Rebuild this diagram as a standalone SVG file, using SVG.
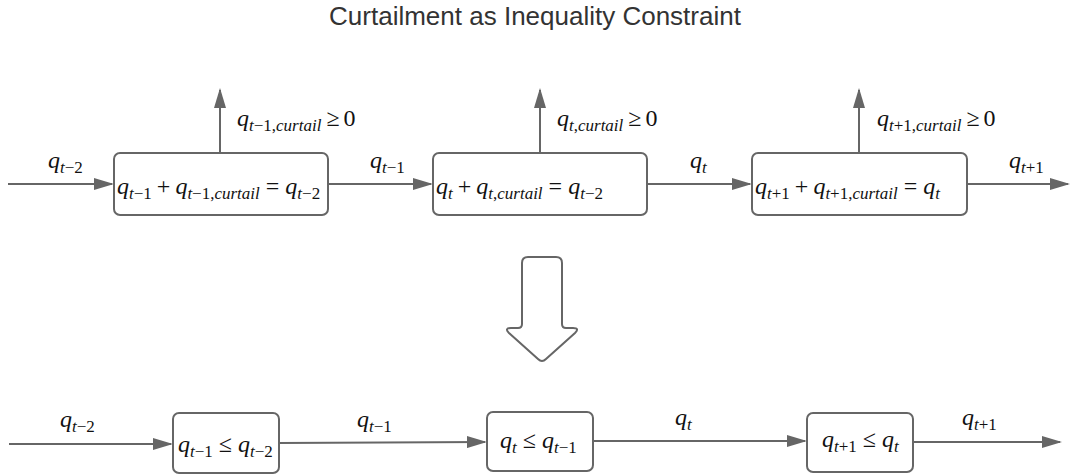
<svg xmlns="http://www.w3.org/2000/svg" width="1072" height="476" viewBox="0 0 1072 476">
<style>
.title{font-family:"Liberation Sans",Arial,sans-serif;font-size:26px;fill:#333}
.m{font-family:"Liberation Serif","Times New Roman",serif;font-size:24px;fill:#111}
.i{font-style:italic}
.s{font-size:17px}
.box{fill:#fff;stroke:#666;stroke-width:2}
.ln{stroke:#666;stroke-width:2;fill:none}
.big{fill:#fff;stroke:#666;stroke-width:2}
</style>
<defs>
<marker id="ah" markerUnits="userSpaceOnUse" markerWidth="20" markerHeight="12" viewBox="0 0 20 12" refX="18" refY="6" orient="auto">
<path d="M0,0 L20,6 L0,12 z" fill="#666"/>
</marker>
</defs>
<rect width="1072" height="476" fill="#fff"/>
<text class="title" x="535" y="25" text-anchor="middle">Curtailment as Inequality Constraint</text>

<g id="connectors">
<line class="ln" x1="8" y1="184" x2="112" y2="184" marker-end="url(#ah)"/>
<line class="ln" x1="328" y1="184" x2="431" y2="184" marker-end="url(#ah)"/>
<line class="ln" x1="647" y1="184" x2="750" y2="184" marker-end="url(#ah)"/>
<line class="ln" x1="967" y1="184" x2="1068" y2="184" marker-end="url(#ah)"/>
<line class="ln" x1="220" y1="153" x2="220" y2="90" marker-end="url(#ah)"/>
<line class="ln" x1="540" y1="153" x2="540" y2="90" marker-end="url(#ah)"/>
<line class="ln" x1="859" y1="153" x2="859" y2="90" marker-end="url(#ah)"/>
<line class="ln" x1="9" y1="444" x2="171" y2="444" marker-end="url(#ah)"/>
<line class="ln" x1="279" y1="443" x2="485" y2="442" marker-end="url(#ah)"/>
<line class="ln" x1="593" y1="441" x2="805" y2="441" marker-end="url(#ah)"/>
<line class="ln" x1="913" y1="442" x2="1060" y2="442" marker-end="url(#ah)"/>
</g>

<g id="labels">
<text class="m" x="48" y="168"><tspan class="i">q</tspan><tspan class="s" dy="5"><tspan class="i">t</tspan>−2</tspan></text>
<text class="m" x="370" y="168"><tspan class="i">q</tspan><tspan class="s" dy="5"><tspan class="i">t</tspan>−1</tspan></text>
<text class="m" x="690" y="168"><tspan class="i">q</tspan><tspan class="s i" dy="5">t</tspan></text>
<text class="m" x="1009" y="168"><tspan class="i">q</tspan><tspan class="s" dy="5"><tspan class="i">t</tspan>+1</tspan></text>

<text class="m" x="237" y="126"><tspan class="i">q</tspan><tspan class="s" dy="5"><tspan class="i">t</tspan>−1,<tspan class="i">curtail</tspan></tspan><tspan dy="-5" dx="5">≥</tspan><tspan dx="4">0</tspan></text>
<text class="m" x="557" y="126"><tspan class="i">q</tspan><tspan class="s" dy="5"><tspan class="i">t</tspan>,<tspan class="i">curtail</tspan></tspan><tspan dy="-5" dx="5">≥</tspan><tspan dx="4">0</tspan></text>
<text class="m" x="877" y="126"><tspan class="i">q</tspan><tspan class="s" dy="5"><tspan class="i">t</tspan>+1,<tspan class="i">curtail</tspan></tspan><tspan dy="-5" dx="5">≥</tspan><tspan dx="4">0</tspan></text>

<text class="m" x="60" y="427"><tspan class="i">q</tspan><tspan class="s" dy="5"><tspan class="i">t</tspan>−2</tspan></text>
<text class="m" x="357" y="427"><tspan class="i">q</tspan><tspan class="s" dy="5"><tspan class="i">t</tspan>−1</tspan></text>
<text class="m" x="675" y="425"><tspan class="i">q</tspan><tspan class="s i" dy="5">t</tspan></text>
<text class="m" x="962" y="425"><tspan class="i">q</tspan><tspan class="s" dy="5"><tspan class="i">t</tspan>+1</tspan></text>
</g>

<g id="n1">
<rect class="box" x="114" y="153" width="214" height="62" rx="6"/>
<text class="m" x="117" y="194"><tspan class="i">q</tspan><tspan class="s" dy="5"><tspan class="i">t</tspan>−1</tspan><tspan dy="-5" dx="5">+</tspan><tspan class="i" dx="5">q</tspan><tspan class="s" dy="5"><tspan class="i">t</tspan>−1,<tspan class="i">curtail</tspan></tspan><tspan dy="-5" dx="6">=</tspan><tspan class="i" dx="6">q</tspan><tspan class="s" dy="5"><tspan class="i">t</tspan>−2</tspan></text>
</g>
<g id="n2">
<rect class="box" x="433" y="153" width="214" height="62" rx="6"/>
<text class="m" x="436" y="194"><tspan class="i">q</tspan><tspan class="s i" dy="5">t</tspan><tspan dy="-5" dx="5">+</tspan><tspan class="i" dx="5">q</tspan><tspan class="s" dy="5"><tspan class="i">t</tspan>,<tspan class="i">curtail</tspan></tspan><tspan dy="-5" dx="6">=</tspan><tspan class="i" dx="6">q</tspan><tspan class="s" dy="5"><tspan class="i">t</tspan>−2</tspan></text>
</g>
<g id="n3">
<rect class="box" x="752" y="153" width="215" height="62" rx="6"/>
<text class="m" x="755" y="194"><tspan class="i">q</tspan><tspan class="s" dy="5"><tspan class="i">t</tspan>+1</tspan><tspan dy="-5" dx="5">+</tspan><tspan class="i" dx="5">q</tspan><tspan class="s" dy="5"><tspan class="i">t</tspan>+1,<tspan class="i">curtail</tspan></tspan><tspan dy="-5" dx="6">=</tspan><tspan class="i" dx="6">q</tspan><tspan class="s i" dy="5">t</tspan></text>
</g>

<g id="bigarrow">
<path class="big" d="M528,257 L556,257 Q562,257 562,263 L562,324 Q562,328 566,328 L573,328 Q580,328 575,333 L546,359 Q542,363 538,359 L509,333 Q504,328 511,328 L518,328 Q522,328 522,324 L522,263 Q522,257 528,257 Z"/>
</g>

<g id="n4">
<rect class="box" x="173" y="413" width="106" height="60" rx="6"/>
<text class="m" x="178" y="452"><tspan class="i">q</tspan><tspan class="s" dy="5"><tspan class="i">t</tspan>−1</tspan><tspan dy="-5" dx="6">≤</tspan><tspan class="i" dx="6">q</tspan><tspan class="s" dy="5"><tspan class="i">t</tspan>−2</tspan></text>
</g>
<g id="n5">
<rect class="box" x="487" y="412" width="106" height="59" rx="6"/>
<text class="m" x="500" y="448"><tspan class="i">q</tspan><tspan class="s i" dy="5">t</tspan><tspan dy="-5" dx="6">≤</tspan><tspan class="i" dx="6">q</tspan><tspan class="s" dy="5"><tspan class="i">t</tspan>−1</tspan></text>
</g>
<g id="n6">
<rect class="box" x="807" y="413" width="106" height="59" rx="6"/>
<text class="m" x="822" y="447"><tspan class="i">q</tspan><tspan class="s" dy="5"><tspan class="i">t</tspan>+1</tspan><tspan dy="-5" dx="6">≤</tspan><tspan class="i" dx="6">q</tspan><tspan class="s i" dy="5">t</tspan></text>
</g>
</svg>
